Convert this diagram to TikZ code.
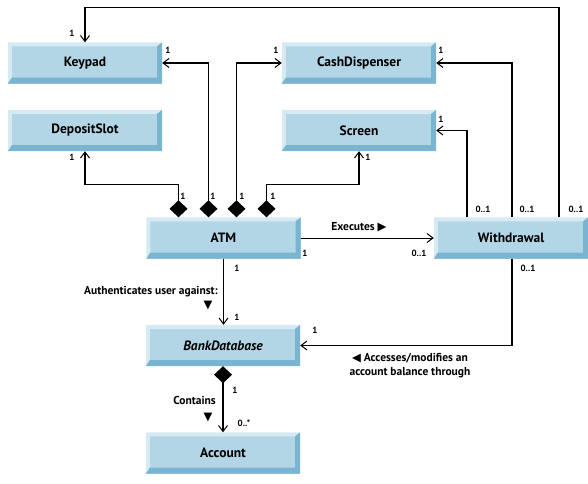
\documentclass[tikz,border=0pt]{standalone}
\usepackage{fontspec}
\setmainfont{PT Sans}
\newfontfamily\symfont{DejaVu Sans}
\usepackage{tikz}
\usetikzlibrary{arrows.meta,positioning,calc}
\usepackage{xcolor}
\definecolor{boxmid}{HTML}{B3D6E7}
\definecolor{boxlight}{HTML}{D6EAF3}
\definecolor{boxdark}{HTML}{79B5D1}

\begin{document}
\begin{tikzpicture}[x=1pt, y=-1pt,
    box/.style={rectangle, fill=boxmid, minimum width=154pt, minimum height=41pt, inner sep=0pt, font=\fontsize{13.5}{15}\selectfont\bfseries},
    link/.style={line width=1.6pt},
    nav/.style={link, -{Straight Barb[length=6pt, width=9pt, line width=1pt]}},
    comp/.style={link, {Diamond[length=17pt, width=18pt]}-{Straight Barb[length=6pt, width=9pt, line width=1pt]}},
    mult/.style={font=\fontsize{9}{10}\selectfont\bfseries, inner sep=0pt},
    role/.style={font=\fontsize{11.5}{14}\selectfont\bfseries, inner sep=0pt, align=center},
]
    \useasboundingbox (0,0) rectangle (588,483);

    \node[box] (keypad) at (85,63) {Keypad};
    \node[box] (cash) at (359,63) {CashDispenser};
    \node[box] (deposit) at (85,130.5) {DepositSlot};
    \node[box] (screen) at (359,130.5) {Screen};
    \node[box] (atm) at (223.5,238) {ATM};
    \node[box] (withdrawal) at (511,238) {Withdrawal};
    \node[box] (bankdb) at (223,345.5) {\itshape BankDatabase};
    \node[box] (account) at (223,453) {Account};

    % bevelled edges
    \foreach \n in {keypad,cash,deposit,screen,atm,withdrawal,bankdb,account} {
        \fill[boxlight] (\n.south west) -- (\n.north west) -- (\n.north east)
            -- ($(\n.north east)+(-5,4)$) -- ($(\n.north west)+(4,4)$) -- ($(\n.south west)+(4,-6)$) -- cycle;
        \fill[boxdark] (\n.south west) -- (\n.south east) -- (\n.north east)
            -- ($(\n.north east)+(-5,4)$) -- ($(\n.south east)+(-5,-6)$) -- ($(\n.south west)+(4,-6)$) -- cycle;
    }

    % ATM parts
    \draw[comp] ([xshift=-15]atm.north) |- (keypad.east);
    \draw[comp] ([xshift=13]atm.north) |- (cash.west);
    \draw[comp] ([xshift=-45]atm.north) -- ++(0,-33) -| (deposit.south);
    \draw[comp] ([xshift=43]atm.north) -- ++(0,-33) -| (screen.south);

    % Withdrawal links
    \draw[nav] ([xshift=48]withdrawal.north) -- ++(0,-210) -| (keypad.north);
    \draw[nav] ([xshift=1]withdrawal.north) |- (cash.east);
    \draw[nav] ([xshift=-44]withdrawal.north) |- (screen.east);
    \draw[nav, line width=1pt] (atm.east) -- (withdrawal.west);
    \draw[nav] (atm.south) -- (atm.south |- bankdb.north);
    \draw[nav, line width=1.2pt] ([xshift=1]withdrawal.south) |- (bankdb.east);
    \draw[comp] (bankdb.south) -- (account.north);

    % multiplicities
    \node[mult] at (72,33) {1};
    \node[mult] at (168,50) {1};
    \node[mult] at (276,50) {1};
    \node[mult] at (441,50) {1};
    \node[mult] at (72,157) {1};
    \node[mult] at (441,119) {1};
    \node[mult] at (368,157) {1};
    \foreach \x in {183,213,242,273} \node[mult] at (\x,196) {1};
    \foreach \x in {483,527,576} \node[mult] at (\x,209) {0..1};
    \node[mult] at (305,253) {1};
    \node[mult] at (419,253) {0..1};
    \node[mult] at (237,268) {1};
    \node[mult] at (237,317) {1};
    \node[mult] at (528,268) {0..1};
    \node[mult] at (315,330) {1};
    \node[mult] at (235,390) {1};
    \node[mult] at (244,423) {0..*};

    % association names
    \node[role] at (359,227) {Executes {\symfont ▶}};
    \node[role, anchor=east] at (218,292) {Authenticates user against:};
    \node[role] at (208,306) {\symfont ▼};
    \node[role] at (410,366) {{\symfont ◀} Accesses/modifies an\\account balance through};
    \node[role, anchor=east] at (216,400) {Contains};
    \node[role] at (208,418) {\symfont ▼};
\end{tikzpicture}
\end{document}
